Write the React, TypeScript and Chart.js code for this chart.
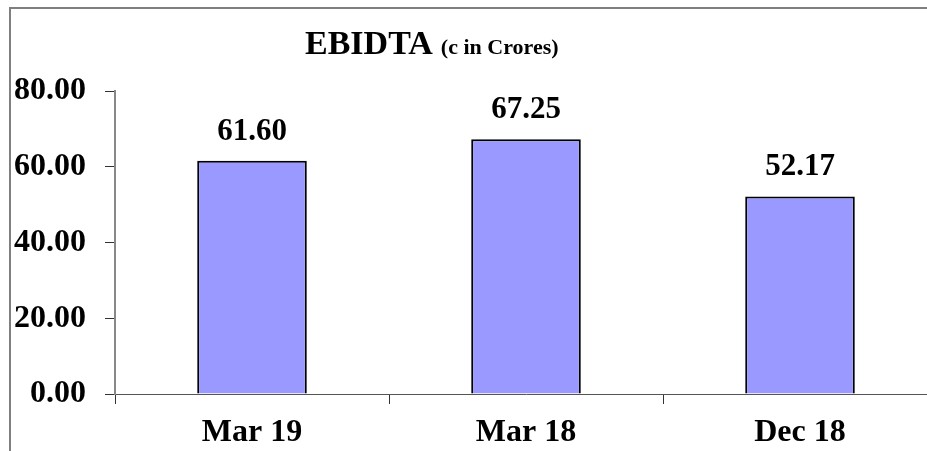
import React, { useEffect, useRef } from "react";
import { Chart, registerables } from "chart.js";

Chart.register(...registerables);

const categories = ["Mar 19", "Mar 18", "Dec 18"];
const ebidtaValues = [61.6, 67.25, 52.17];
const titleMain = "EBIDTA";
const titleSub = "(c in Crores)";
const yMin = 0;
const yMax = 80;
const yStep = 20;

const FONT = "'Liberation Serif', 'Times New Roman', serif";
const CW = 1000;
const CH = 470;

export default function App() {
  const ref = useRef<HTMLCanvasElement | null>(null);

  useEffect(() => {
    if (!ref.current) return;

    const titlePlugin = {
      id: "titleText",
      afterDraw(chart: any) {
        const ctx = chart.ctx;
        ctx.save();
        ctx.fillStyle = "#000";
        ctx.textBaseline = "alphabetic";
        ctx.textAlign = "left";
        ctx.font = `bold 34px ${FONT}`;
        const x0 = 305;
        ctx.fillText(titleMain, x0, 54);
        const w = ctx.measureText(titleMain).width;
        ctx.font = `bold 22px ${FONT}`;
        ctx.fillText(titleSub, x0 + w + 8, 54);
        ctx.restore();
      },
    };

    const labelPlugin = {
      id: "valueLabels",
      afterDatasetsDraw(chart: any) {
        const ctx = chart.ctx;
        const meta = chart.getDatasetMeta(0);
        ctx.save();
        ctx.fillStyle = "#000";
        ctx.font = `bold 31px ${FONT}`;
        ctx.textAlign = "center";
        ctx.textBaseline = "alphabetic";
        meta.data.forEach((bar: any, i: number) => {
          ctx.fillText(ebidtaValues[i].toFixed(2), bar.x, bar.y - 21);
        });
        ctx.restore();
      },
    };

    const chart = new Chart(ref.current, {
      type: "bar",
      data: {
        labels: categories,
        datasets: [
          {
            data: ebidtaValues,
            backgroundColor: "#9999FF",
            borderColor: "#000000",
            borderWidth: 2,
            barPercentage: 0.4,
            categoryPercentage: 1,
          },
        ],
      },
      options: {
        animation: false,
        responsive: false,
        layout: { padding: { left: 0, right: CW - 937, top: 91, bottom: 0 } },
        plugins: {
          legend: { display: false },
          title: { display: false },
          tooltip: { enabled: false },
        },
        scales: {
          x: {
            offset: true,
            grid: {
              offset: true,
              drawOnChartArea: false,
              drawTicks: true,
              tickLength: 10,
              color: "#333",
              lineWidth: 1,
            },
            border: { display: true, color: "#555", width: 1 },
            ticks: {
              color: "#000",
              font: { family: FONT, size: 32, weight: "bold" },
              padding: 10,
              maxRotation: 0,
            },
            afterFit(scale: any) {
              scale.height = CH - 394;
            },
          },
          y: {
            min: yMin,
            max: yMax,
            grid: {
              drawOnChartArea: false,
              drawTicks: true,
              tickLength: 10,
              color: "#333",
            },
            border: { display: true, color: "#888", width: 2 },
            ticks: {
              stepSize: yStep,
              color: "#000",
              padding: 19,
              font: { family: FONT, size: 32, weight: "bold" },
              callback: (v: any) => Number(v).toFixed(2),
            },
            afterFit(scale: any) {
              scale.width = 115;
            },
          },
        },
      },
      plugins: [titlePlugin, labelPlugin],
    });

    return () => chart.destroy();
  }, []);

  return (
    <div
      style={{
        position: "fixed",
        left: 0,
        top: 0,
        width: 927,
        height: 451,
        overflow: "hidden",
        background: "#fff",
      }}
    >
      <canvas
        ref={ref}
        width={CW}
        height={CH}
        style={{ width: CW, height: CH, display: "block", position: "absolute", left: 0, top: 0 }}
      />
      <div
        style={{
          position: "absolute",
          left: 9,
          top: 7,
          width: 1000,
          height: 500,
          borderLeft: "2px solid #808080",
          borderTop: "2px solid #7f7f7f",
          pointerEvents: "none",
        }}
      />
    </div>
  );
}
